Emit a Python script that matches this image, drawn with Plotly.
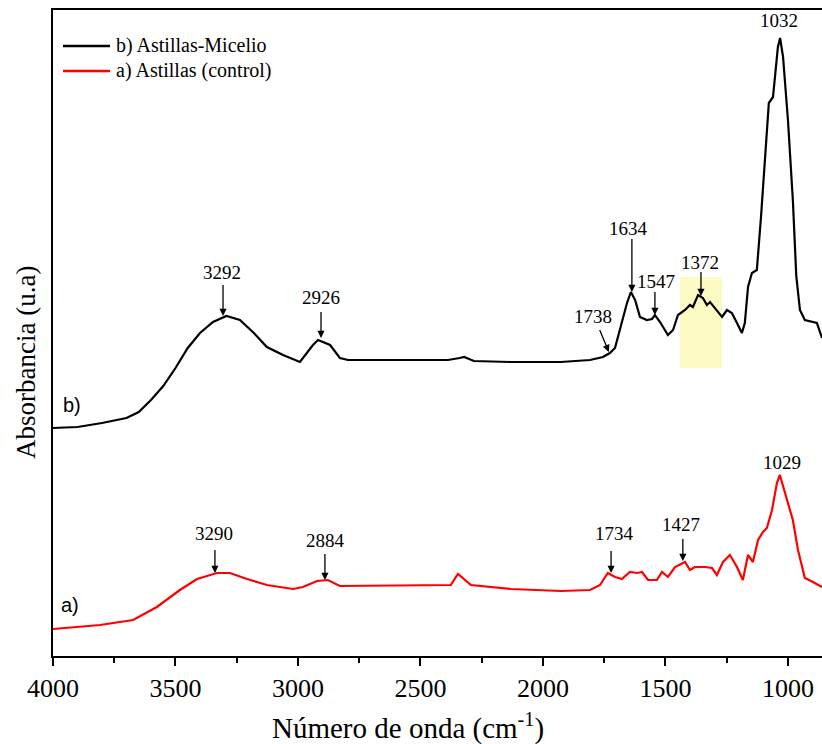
import plotly.graph_objects as go

# Black curve: b) Astillas-Micelio (wavenumber cm^-1, absorbance a.u.)
wn_b = [4000, 3900, 3800, 3700, 3650, 3600, 3550, 3500, 3450, 3400, 3347, 3292, 3237, 3180,
        3127, 3061, 2992, 2939, 2918, 2869, 2829, 2796, 2700, 2539, 2388, 2340, 2322, 2282,
        2131, 1927, 1808, 1755, 1727, 1706, 1678, 1657, 1641, 1624, 1604, 1576, 1555, 1543,
        1522, 1490, 1469, 1449, 1420, 1400, 1388, 1367, 1347, 1331, 1318, 1290, 1269, 1249,
        1229, 1208, 1188, 1176, 1163, 1147, 1127, 1110, 1078, 1061, 1041, 1032, 1020, 1000,
        980, 966, 951, 931, 902, 882, 861]
ab_b = [0.228, 0.229, 0.233, 0.238, 0.244, 0.256, 0.270, 0.288, 0.308, 0.323, 0.334, 0.340, 0.336, 0.323,
        0.309, 0.301, 0.294, 0.311, 0.316, 0.311, 0.298, 0.296, 0.296, 0.296, 0.296, 0.298, 0.299, 0.295,
        0.294, 0.294, 0.296, 0.299, 0.303, 0.308, 0.333, 0.353, 0.364, 0.356, 0.339, 0.336, 0.337, 0.341,
        0.334, 0.321, 0.326, 0.341, 0.346, 0.351, 0.349, 0.361, 0.358, 0.351, 0.354, 0.346, 0.339, 0.346,
        0.343, 0.333, 0.323, 0.333, 0.369, 0.383, 0.386, 0.439, 0.553, 0.559, 0.609, 0.618, 0.599, 0.536,
        0.456, 0.380, 0.346, 0.336, 0.334, 0.333, 0.318]

# Red curve: a) Astillas (control)
wn_a = [4000, 3808, 3673, 3576, 3482, 3412, 3331, 3278, 3208, 3127, 3020, 2980, 2922, 2878, 2829,
        2539, 2376, 2347, 2294, 2131, 1927, 1808, 1767, 1735, 1706, 1678, 1645, 1616, 1596, 1571,
        1535, 1514, 1490, 1461, 1420, 1400, 1380, 1339, 1310, 1290, 1265, 1237, 1208, 1184, 1163,
        1143, 1122, 1102, 1086, 1065, 1045, 1033, 1012, 992, 980, 959, 931, 898, 861]
ab_a = [0.027, 0.031, 0.036, 0.049, 0.066, 0.077, 0.083, 0.083, 0.077, 0.071, 0.067, 0.069, 0.075, 0.076, 0.070,
        0.071, 0.071, 0.082, 0.071, 0.067, 0.065, 0.066, 0.071, 0.083, 0.079, 0.077, 0.084, 0.083, 0.084, 0.076,
        0.076, 0.084, 0.079, 0.089, 0.094, 0.086, 0.089, 0.089, 0.088, 0.081, 0.094, 0.101, 0.089, 0.076, 0.101,
        0.094, 0.116, 0.124, 0.128, 0.146, 0.173, 0.181, 0.163, 0.146, 0.136, 0.106, 0.078, 0.074, 0.069]

series_names = ["b) Astillas-Micelio", "a) Astillas (control)"]
series_colors = ["black", "#ff0000"]

# Peak labels: (text, label x, label y, arrow tip x, arrow tip y, arrow dx px, arrow dy px)
peaks_b = [("3292", 3310, 0.384, 3306, 0.340, 0, -33),
           ("2926", 2906, 0.359, 2906, 0.318, 0, -28),
           ("1738", 1796, 0.340, 1731, 0.304, -10, -24),
           ("1634", 1649, 0.428, 1637, 0.364, 0, -55),
           ("1547", 1539, 0.375, 1543, 0.341, 0, -25),
           ("1372", 1359, 0.394, 1355, 0.360, 0, -26),
           ("1032", 1037, 0.636, None, None, 0, 0)]
peaks_a = [("3290", 3343, 0.123, 3339, 0.083, 0, -25),
           ("2884", 2886, 0.116, 2890, 0.076, 0, -28),
           ("1734", 1706, 0.123, 1722, 0.083, 0, -24),
           ("1427", 1437, 0.132, 1429, 0.095, 0, -24),
           ("1029", 1024, 0.194, None, None, 0, 0)]

# Highlight band
band_x = [1441, 1269]
band_y = [0.288, 0.379]

x_ticks = [4000, 3500, 3000, 2500, 2000, 1500, 1000]
x_minor = [3750, 3250, 2750, 2250, 1750, 1250]

serif = "Liberation Serif"
sans = "Liberation Sans"

fig = go.Figure()
fig.add_trace(go.Scatter(x=wn_b, y=ab_b, mode="lines", name=series_names[0], showlegend=False,
                         line=dict(color=series_colors[0], width=2.2)))
fig.add_trace(go.Scatter(x=wn_a, y=ab_a, mode="lines", name=series_names[1], showlegend=False,
                         line=dict(color=series_colors[1], width=2.2)))

fig.add_shape(type="rect", xref="x", yref="y", x0=band_x[0], x1=band_x[1], y0=band_y[0], y1=band_y[1],
              fillcolor="#fdfbc4", line=dict(width=0), layer="below")

anns = []
for peaks in (peaks_b, peaks_a):
    for txt, lx, ly, tx, ty, dx, dy in peaks:
        anns.append(dict(x=lx, y=ly, xref="x", yref="y", text=txt, showarrow=False,
                         font=dict(family=serif, size=19, color="black")))
        if tx is not None:
            anns.append(dict(x=tx, y=ty, xref="x", yref="y", text=" ", showarrow=True,
                             ax=dx, ay=dy, arrowhead=2, arrowsize=1.1, arrowwidth=1.3,
                             arrowcolor="black", standoff=0, startstandoff=0,
                             font=dict(size=1)))
anns.append(dict(x=3922, y=0.251, xref="x", yref="y", text="b)", showarrow=False,
                 font=dict(family=sans, size=20, color="black")))
anns.append(dict(x=3931, y=0.051, xref="x", yref="y", text="a)", showarrow=False,
                 font=dict(family=sans, size=20, color="black")))

# Legend drawn in the top-left corner
leg_y = [0.9443, 0.9056]
for name, col, ly in zip(series_names, series_colors, leg_y):
    fig.add_shape(type="line", xref="paper", yref="paper", x0=0.013, x1=0.0741, y0=ly, y1=ly,
                  line=dict(color=col, width=2.5))
    anns.append(dict(x=0.0793, y=ly, xref="paper", yref="paper", text=name, showarrow=False,
                     xanchor="left", yanchor="middle",
                     font=dict(family=serif, size=20, color="black")))

# Axis titles
anns.append(dict(x=0.4616, y=-0.1084, xref="paper", yref="paper",
                 text="Número de onda (cm<sup>-1</sup>)", showarrow=False,
                 xanchor="center", yanchor="middle",
                 font=dict(family=serif, size=29, color="black")))
anns.append(dict(x=-0.0351, y=0.4536, xref="paper", yref="paper",
                 text="Absorbancia (u.a)", showarrow=False, textangle=-90,
                 xanchor="center", yanchor="middle",
                 font=dict(family=serif, size=27, color="black")))

fig.update_layout(
    width=822, height=744,
    margin=dict(l=53, r=0, t=10, b=88),
    paper_bgcolor="white", plot_bgcolor="white",
    annotations=anns,
    showlegend=False,
    xaxis=dict(range=[4000, 861], tickvals=x_ticks, ticks="outside", ticklen=8, tickwidth=2,
               tickcolor="black", showline=True, linecolor="black", linewidth=2, mirror=True,
               showgrid=False, zeroline=False,
               minor=dict(tickvals=x_minor, ticks="outside",
                          ticklen=5, tickwidth=2, tickcolor="black"),
               tickfont=dict(family=serif, size=26, color="black")),
    yaxis=dict(range=[0, 0.646], showticklabels=False, ticks="", showline=True, linecolor="black",
               linewidth=2, showgrid=False, zeroline=False),
)

fig.write_html("out.html")
